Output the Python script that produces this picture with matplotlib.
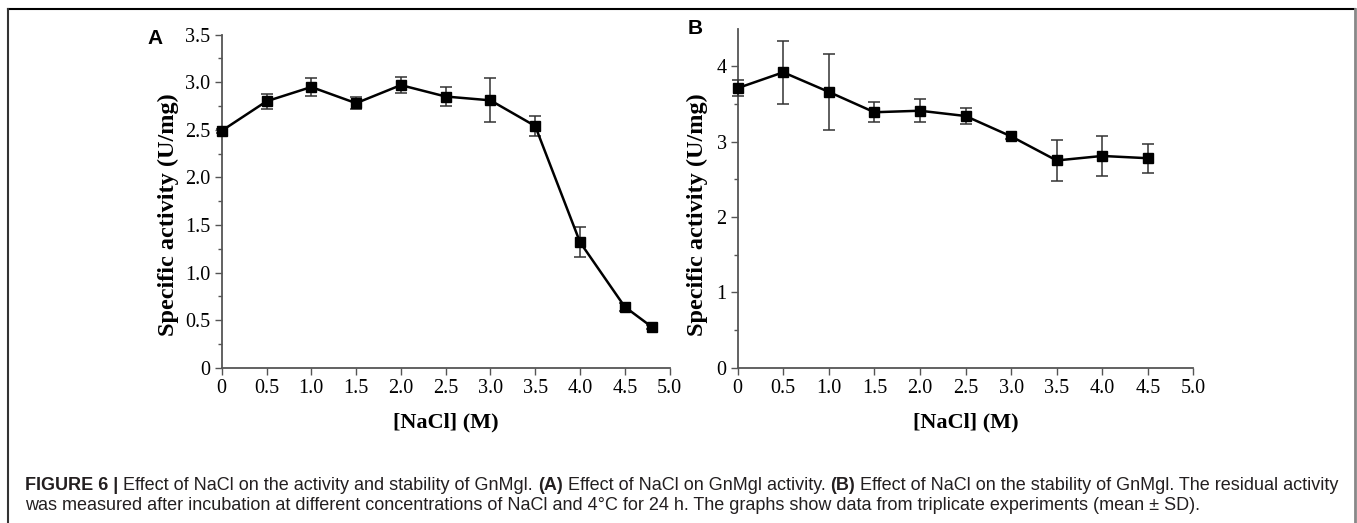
import matplotlib
matplotlib.use("Agg")
import matplotlib.pyplot as plt
from matplotlib.lines import Line2D
from matplotlib.ticker import MultipleLocator, FixedLocator

# panel A: activity vs NaCl
nacl_a = [0, 0.5, 1.0, 1.5, 2.0, 2.5, 3.0, 3.5, 4.0, 4.5, 4.8]
act_a = [2.49, 2.80, 2.95, 2.78, 2.97, 2.85, 2.81, 2.54, 1.32, 0.64, 0.43]
sd_a = [0.02, 0.08, 0.09, 0.06, 0.08, 0.10, 0.23, 0.11, 0.16, 0.04, 0.02]

# panel B: stability vs NaCl
nacl_b = [0, 0.5, 1.0, 1.5, 2.0, 2.5, 3.0, 3.5, 4.0, 4.5]
act_b = [3.71, 3.92, 3.66, 3.39, 3.41, 3.34, 3.07, 2.75, 2.81, 2.78]
sd_b = [0.11, 0.42, 0.50, 0.13, 0.15, 0.11, 0.03, 0.27, 0.27, 0.19]

xticks = [0, 0.5, 1.0, 1.5, 2.0, 2.5, 3.0, 3.5, 4.0, 4.5, 5.0]
xtick_labels = ["0", "0.5", "1.0", "1.5", "2.0", "2.5", "3.0", "3.5", "4.0", "4.5", "5.0"]
yticks_a = [0, 0.5, 1.0, 1.5, 2.0, 2.5, 3.0, 3.5]
ytick_labels_a = ["0", "0.5", "1.0", "1.5", "2.0", "2.5", "3.0", "3.5"]
yticks_b = [0, 1, 2, 3, 4]
ytick_labels_b = ["0", "1", "2", "3", "4"]

caption_1 = "Effect of NaCl on the activity and stability of GnMgl. "
caption_2 = "was measured after incubation at different concentrations of NaCl and 4\u00b0C for 24 h. The graphs show data from triplicate experiments (mean \u00b1 SD)."

serif = "Liberation Serif"
sans = "Liberation Sans"
spine_col = "#555555"
cap_col = "#231f20"

fig = plt.figure(figsize=(13.57, 5.23), dpi=100)
ax_a = fig.add_axes([0.1634, 0.2969, 0.3300, 0.6368])
ax_b = fig.add_axes([0.5436, 0.2969, 0.3358, 0.6470])


def style(ax, yt, ytl, ylab_right_px, ylab_mid_px):
    for s in ["top", "right"]:
        ax.spines[s].set_visible(False)
    for s in ["left", "bottom"]:
        ax.spines[s].set_color(spine_col)
        ax.spines[s].set_linewidth(1.3)
    ax.tick_params(which="both", direction="out", color=spine_col, width=1.0)
    ax.tick_params(which="major", length=5, labelsize=14.5, pad=3)
    ax.tick_params(which="minor", length=3)
    ax.set_xlim(0, 5.0)
    ax.xaxis.set_major_locator(FixedLocator(xticks))
    ax.set_xticklabels(xtick_labels)
    ax.yaxis.set_major_locator(FixedLocator(yt))
    ax.set_yticklabels(ytl)
    for lab in ax.get_xticklabels() + ax.get_yticklabels():
        lab.set_fontfamily(serif)
    ax.set_xlabel("[NaCl] (M)", fontfamily=serif, fontweight="bold", fontsize=16)
    ax.set_ylabel("Specific activity (U/mg)", fontfamily=serif, fontweight="bold", fontsize=17.5)
    pos = ax.get_position()
    w_px = pos.width * 1357
    h_px = pos.height * 523
    left_px = pos.x0 * 1357
    bottom_px = (1 - pos.y0) * 523
    ax.xaxis.set_label_coords(0.5, -45 / h_px)
    ax.yaxis.set_label_coords((ylab_right_px - left_px) / w_px, (bottom_px - ylab_mid_px) / h_px)


def draw(ax, x, y, e):
    ax.errorbar(x, y, yerr=e, color="black", lw=1.8, marker="s", ms=7,
                mfc="black", mec="black", ecolor="#333333", elinewidth=1.1,
                capsize=4, capthick=1.1, clip_on=False, zorder=3)


draw(ax_a, nacl_a, act_a, sd_a)
ax_a.set_ylim(0, 3.5)
ax_a.yaxis.set_minor_locator(MultipleLocator(0.25))
style(ax_a, yticks_a, ytick_labels_a, 179, 215)

draw(ax_b, nacl_b, act_b, sd_b)
ax_b.set_ylim(0, 4.49)
ax_b.yaxis.set_minor_locator(MultipleLocator(0.5))
style(ax_b, yticks_b, ytick_labels_b, 708, 215)

fig.text(155 / 1357, 1 - 38 / 523, "A", fontfamily=sans, fontweight="bold", fontsize=15, ha="center", va="center")
fig.text(695 / 1357, 1 - 29 / 523, "B", fontfamily=sans, fontweight="bold", fontsize=15, ha="center", va="center")

# caption
y1 = 1 - 485 / 523
y2 = 1 - 505 / 523
x0 = 25 / 1357
cap_fs = 13
t = fig.text(x0, y1, "FIGURE 6 | ", fontfamily=sans, fontweight="bold", fontsize=cap_fs, va="center", color=cap_col)
fig.canvas.draw()
r = fig.canvas.get_renderer()


def put(prev, s, bold=False):
    bb = prev.get_window_extent(r)
    nx = bb.x1 / fig.bbox.width
    return fig.text(nx, y1, s, fontfamily=sans, fontweight="bold" if bold else "normal",
                    fontsize=cap_fs, va="center", color=cap_col)


t = put(t, caption_1)
t = put(t, "(A)", bold=True)
t = put(t, " Effect of NaCl on GnMgl activity. ")
t = put(t, "(B)", bold=True)
t = put(t, " Effect of NaCl on the stability of GnMgl. The residual activity")
fig.text(x0, y2, caption_2, fontfamily=sans, fontsize=cap_fs, va="center", color=cap_col)

# frame around figure
fig.add_artist(Line2D([8 / 1357, 1355 / 1357], [1 - 9 / 523, 1 - 9 / 523], color="black", lw=1.5))
fig.add_artist(Line2D([8 / 1357, 8 / 1357], [0, 1 - 9 / 523], color="#333333", lw=1.5))
fig.add_artist(Line2D([1355 / 1357, 1355 / 1357], [0, 1 - 9 / 523], color="#888888", lw=2))

fig.savefig("out.png", dpi=100)
